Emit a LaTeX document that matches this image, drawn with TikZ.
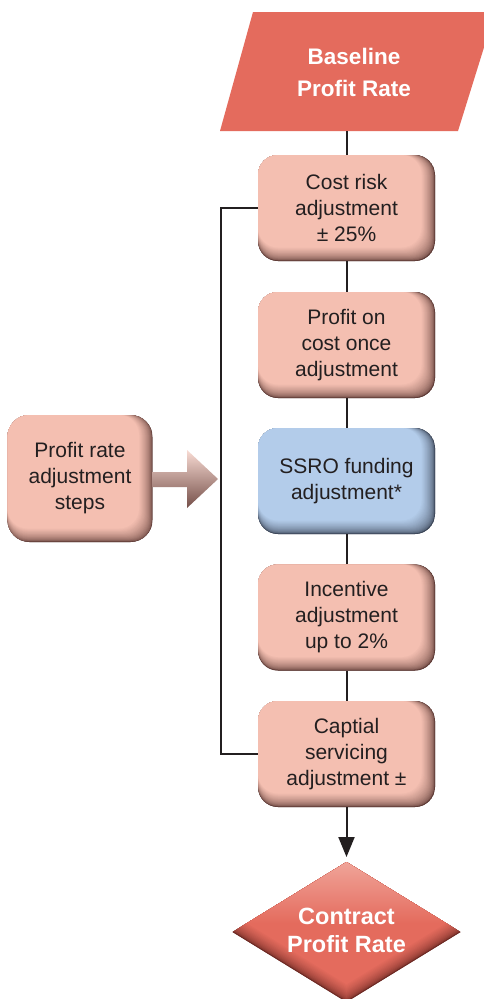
\documentclass[tikz,border=0pt]{standalone}
\usepackage{fontspec}
\setmainfont{Liberation Sans}
\usetikzlibrary{arrows.meta,calc}

\definecolor{pinkbase}{HTML}{F4BFB1}
\definecolor{pinkdark}{HTML}{5E3B36}
\definecolor{bluebase}{HTML}{B3CCEA}
\definecolor{bluedark}{HTML}{3C4658}
\definecolor{salmon}{HTML}{E46B5D}
\definecolor{salmonlight}{HTML}{F0A499}
\definecolor{salmondark}{HTML}{6E2A24}
\definecolor{ink}{HTML}{231F20}

\tikzset{
  % rounded box whose right and bottom edges fade into a darker tone
  bevel/.style 2 args={fill=#2, path picture={
      \foreach \i in {0,...,18}{
        \pgfmathtruncatemacro\mixpct{100*sqrt(\i/18)}
        \pgfmathsetmacro\inset{0.75*\i}
        \fill[#1!\mixpct!#2, rounded corners=20pt]
          (path picture bounding box.north west) rectangle
          ([xshift=-\inset pt, yshift=\inset pt]path picture bounding box.south east);
      }}},
  stepbox/.style={rounded corners=20pt, minimum width=177pt, minimum height=106pt,
    inner sep=0pt, align=center, text=ink, font=\fontsize{21}{26}\selectfont},
  sidebox/.style={stepbox, minimum width=145pt, minimum height=127pt, rounded corners=22pt},
  title/.style={align=center, text=white, inner sep=0pt},
  link/.style={draw=ink, line width=2pt},
}

\begin{document}
\begin{tikzpicture}[x=1pt, y=-1pt]
  \fill[white] (0,0) rectangle (484,999);
  \useasboundingbox (0,0) rectangle (484,999);
  \clip (0,0) rectangle (484,999);

  % start: baseline profit rate
  \fill[salmon] (253,12) -- (495,12) -- (458,131) -- (220,131) -- cycle;
  \node[title, font=\bfseries\fontsize{22.5}{32}\selectfont] (base) at (354,72) {Baseline\\Profit Rate};
  \coordinate (basebot) at (346.5,131);

  % adjustment steps
  \node[stepbox, bevel={pinkbase}{pinkdark}] (s1) at (346.5,208) {Cost risk\\adjustment\\± 25\%};
  \node[stepbox, bevel={pinkbase}{pinkdark}] (s2) at (346.5,345) {Profit on\\cost once\\adjustment};
  \node[stepbox, bevel={bluebase}{bluedark}] (s3) at (346.5,481) {SSRO funding\\adjustment*};
  \node[stepbox, bevel={pinkbase}{pinkdark}] (s4) at (346.5,617.5) {Incentive\\adjustment\\up to 2\%};
  \node[stepbox, bevel={pinkbase}{pinkdark}] (s5) at (346.5,754) {Captial\\servicing\\adjustment ±};

  % side label and its block arrow
  \node[sidebox, bevel={pinkbase}{pinkdark}] (lb) at (80,478.5) {Profit rate\\adjustment\\steps};
  \coordinate (tip) at (218,479);
  \shade[top color=pinkbase!55!white, middle color=pinkbase!85!pinkdark, bottom color=pinkdark!85!pinkbase]
    (lb.east |- 0,472) -- (187,472) -- (187,450) -- (tip) -- (187,508) -- (187,487)
    -- (lb.east |- 0,487) -- cycle;

  % end: contract profit rate
  \coordinate (dtop) at (346.5,862);
  \fill[salmondark] (dtop) -- ++(114,70) -- ++(-114,70) -- ++(-114,-70) -- cycle;
  \foreach \i in {0,...,14}{
    \pgfmathtruncatemacro\mixpct{100*sqrt(\i/14)}
    \pgfmathsetmacro\sc{1-0.009*\i}
    \fill[salmon!\mixpct!salmondark, shift={(dtop)}, scale=\sc]
      (0,0) -- (114,70) -- (0,140) -- (-114,70) -- cycle;
  }
  \shade[top color=salmonlight, bottom color=salmon, shift={(dtop)}, scale=0.874]
    (0,0) -- (114,70) -- (-114,70) -- cycle;
  \node[title, font=\bfseries\fontsize{23.5}{28}\selectfont] (cpr) at (346.5,930) {Contract\\Profit Rate};
  \coordinate (arrowend) at (346.5,857);

  % connectors
  \draw[link] (basebot) -- (s1.north);
  \draw[link] (s1) -- (s2);
  \draw[link] (s2) -- (s3);
  \draw[link] (s3) -- (s4);
  \draw[link] (s4) -- (s5);
  \coordinate (bx) at (221,0);
  \draw[link] (s1.west) -- (s1.west -| bx) -- (s5.west -| bx) -- (s5.west);
  \draw[link, -{Triangle[length=20pt, width=16pt]}] (s5.south) -- (arrowend);
\end{tikzpicture}
\end{document}
